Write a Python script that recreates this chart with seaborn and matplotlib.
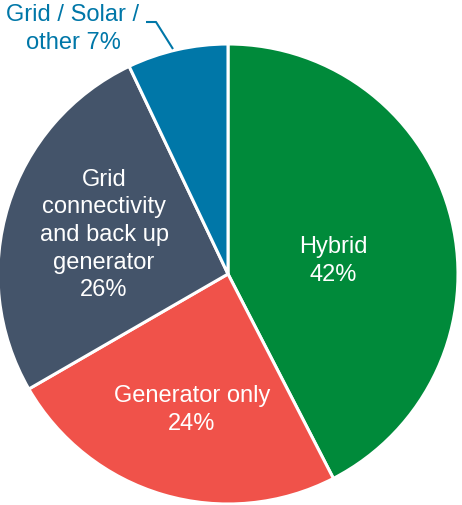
import seaborn as sns
import matplotlib.pyplot as plt

# data
labels = ["Hybrid\n42%", "Generator only\n24%",
          "Grid\nconnectivity\nand back up\ngenerator\n26%", "Grid / Solar /\nother 7%"]
shares = [42, 24, 26, 7]
colors = ["#008A3A", "#F0524A", "#44546A", "#0077A8"]

sns.set_theme(style="white")
plt.rcParams['font.family'] = ['Liberation Sans', 'DejaVu Sans']

fig = plt.figure(figsize=(4.62, 5.06), dpi=100)
ax = fig.add_axes([0, 0, 1, 1])
ax.set_aspect('equal')
ax.axis('off')

cx, cy, r = 228, 231, 230
wedges, _ = ax.pie(shares, colors=colors, startangle=90, counterclock=False,
                   center=(cx, cy), radius=r,
                   wedgeprops=dict(edgecolor="white", linewidth=2.2))
ax.set_xlim(0, 462)
ax.set_ylim(0, 506)

# labels inside slices
inside_pos = [(333, 245), (192, 96), (104, 271)]
for lab, (x, y) in zip(labels[:3], inside_pos):
    ax.text(x, y, lab, ha="center", va="center", color="white",
            fontsize=17, linespacing=1.33)

# outside label with leader line
ax.text(73, 477, labels[3], ha="center", va="center", color=colors[3],
        fontsize=17, linespacing=1.33)
ax.plot([146, 156, 173], [483, 483, 456], color=colors[3], lw=1.5,
        solid_capstyle="butt")

fig.savefig("out.png", dpi=100)
